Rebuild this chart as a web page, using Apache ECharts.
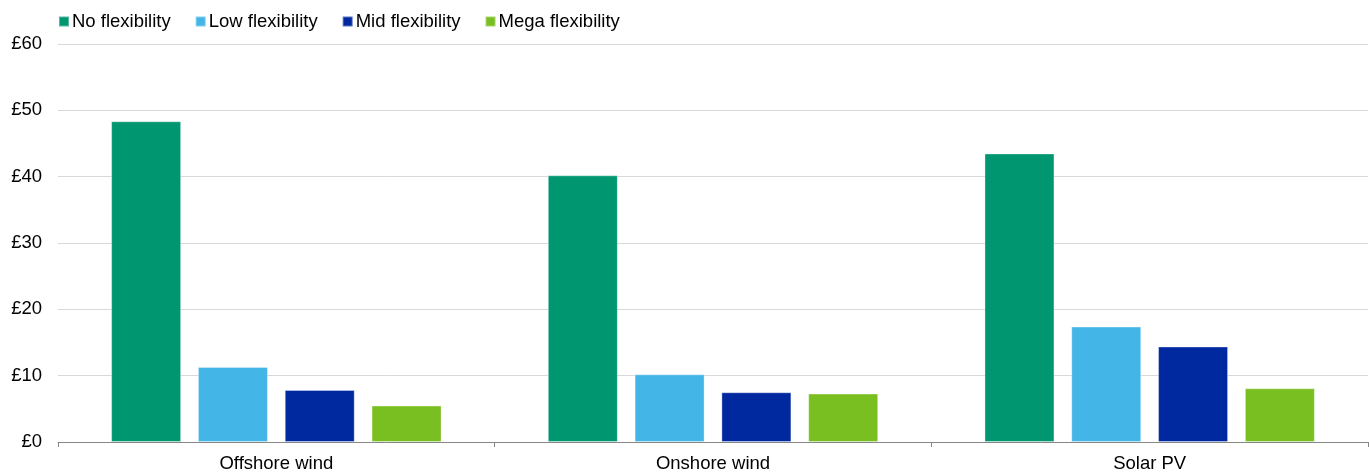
<!DOCTYPE html>
<html>
<head>
<meta charset="utf-8">
<script src="https://cdn.jsdelivr.net/npm/echarts@6/dist/echarts.min.js"></script>
<style>
  html, body { margin: 0; padding: 0; background: #fff; }
  #chart { width: 1369px; height: 473px; }
</style>
</head>
<body>
<div id="chart"></div>
<script>
// Cost values (£) by technology for each flexibility scenario
const categories = ['Offshore wind', 'Onshore wind', 'Solar PV'];
const noFlex   = [48.35, 40.2, 43.5];
const lowFlex  = [11.3, 10.2, 17.4];
const midFlex  = [7.85, 7.5, 14.4];
const megaFlex = [5.5, 7.3, 8.1];
const seriesNames = ['No flexibility', 'Low flexibility', 'Mid flexibility', 'Mega flexibility'];
const colors = ['#009670', '#43B5E6', '#0029A0', '#7ABF21'];
const yTicks = [0, 10, 20, 30, 40, 50, 60];

const font = 'Arial, "Liberation Sans", sans-serif';
const fontSize = 18.5;
const seriesData = [noFlex, lowFlex, midFlex, megaFlex];

const chart = echarts.init(document.getElementById('chart'));
chart.setOption({
  animation: false,
  color: colors,
  textStyle: { fontFamily: font },
  legend: {
    left: 58,
    top: 12,
    padding: 0,
    itemWidth: 10,
    itemHeight: 10,
    itemGap: 24,
    icon: 'rect',
    textStyle: { fontSize: fontSize, color: '#000', fontFamily: font, padding: [0, 0, 0, -2] },
    data: seriesNames
  },
  grid: { left: 58, right: 1, top: 44, bottom: 31, containLabel: false },
  xAxis: {
    type: 'category',
    data: categories,
    axisLine: { lineStyle: { color: '#868686', width: 1 } },
    axisTick: { show: true, length: 5, lineStyle: { color: '#868686' } },
    axisLabel: { fontSize: fontSize, color: '#000', margin: 12, fontFamily: font }
  },
  yAxis: {
    type: 'value',
    min: yTicks[0],
    max: yTicks[yTicks.length - 1],
    interval: 10,
    axisLine: { show: false },
    axisTick: { show: false },
    splitLine: { lineStyle: { color: '#d9d9d9', width: 1 } },
    axisLabel: {
      fontSize: fontSize, color: '#000', margin: 16, fontFamily: font,
      formatter: v => '£' + v
    }
  },
  series: seriesNames.map((name, i) => ({
    name,
    type: 'bar',
    data: seriesData[i],
    barWidth: 70,
    barGap: '24%',
    itemStyle: { color: colors[i], borderColor: 'rgba(255,255,255,0.35)', borderWidth: 1 }
  }))
});
</script>
</body>
</html>
